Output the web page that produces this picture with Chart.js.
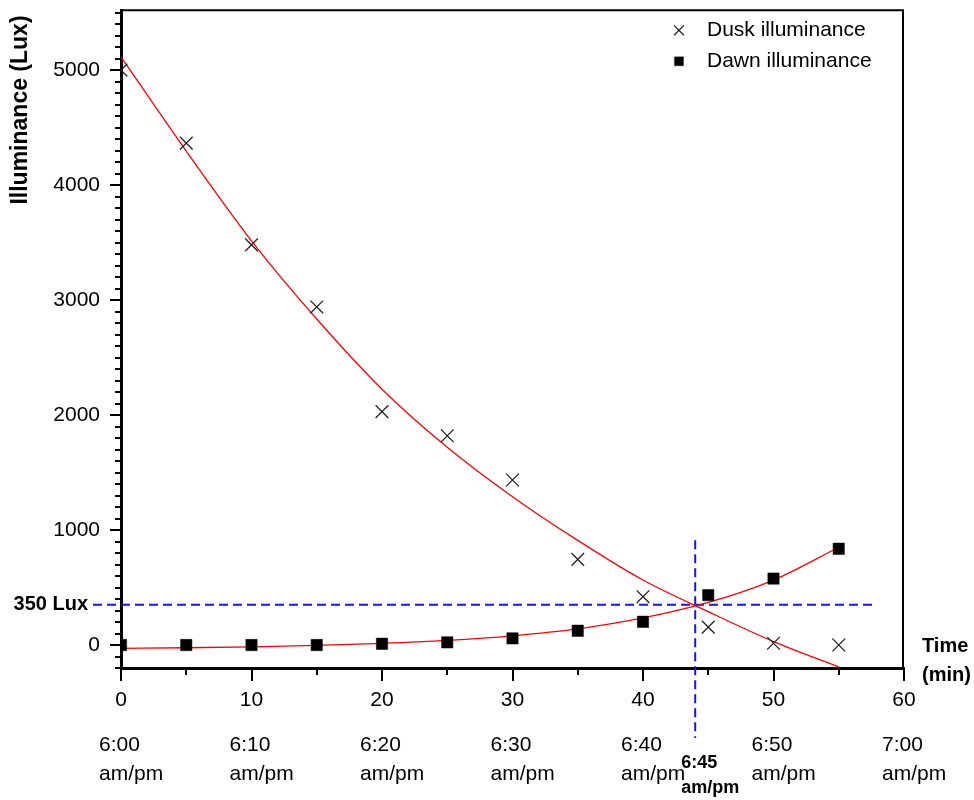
<!DOCTYPE html>
<html lang="en">

<head>
  <title>Dusk and dawn illuminance</title>
  <meta charset="UTF-8">
  <meta name="viewport" content="width=device-width, initial-scale=1">
  <script src="https://cdn.jsdelivr.net/npm/chart.js@4.4.1/dist/chart.umd.min.js"></script>
  <style>
    body { margin: 0; background: #fff; }
  </style>
</head>

<body>
  <canvas id="myChart" width="974" height="800"></canvas>
  <script>
    const minutes = [0, 5, 10, 15, 20, 25, 30, 35, 40, 45, 50, 55];
    const duskLux = [5000, 4365, 3480, 2940, 2030, 1820, 1435, 745, 420, 155, 15, 0];
    const dawnLux = [0, 0, 0, 0, 11, 23, 58, 124, 202, 433, 578, 837];
    // fitted curves
    const duskFit = [5115, 4295, 3515, 2835, 2225, 1720, 1290, 910, 565, 290, 30, -190];
    const dawnFit = [-29, -24, -16, -4, 14, 40, 80, 140, 235, 370, 565, 850];

    const yTicks = [0, 1000, 2000, 3000, 4000, 5000];
    const xTicks = [0, 10, 20, 30, 40, 50, 60];
    const clockLabels = ["6:00", "6:10", "6:20", "6:30", "6:40", "6:50", "7:00"];

    const thresholdLux = 350;
    const crossMinute = 44;
    const crossLabel = ["6:45", "am/pm"];
    const legendLabels = ["Dusk illuminance", "Dawn illuminance"];

    const FONT = "'Liberation Sans', Arial, sans-serif";
    const toPoints = ys => minutes.map((m, i) => ({ x: m, y: ys[i] }));

    const duskStyle = { pointStyle: "crossRot", radius: 9, borderWidth: 1.3, color: "#222" };
    const dawnStyle = { pointStyle: "rect", radius: 8, borderWidth: 0.5, color: "#000" };

    const extras = {
      id: "extras",
      beforeDatasetsDraw(chart) {
        const { ctx, chartArea: a, scales: { x, y } } = chart;
        const py = y.getPixelForValue(thresholdLux);
        const px = x.getPixelForValue(crossMinute);
        ctx.save();
        ctx.strokeStyle = "#1515ee";
        ctx.lineWidth = 2;
        ctx.setLineDash([9, 5]);
        ctx.beginPath();
        ctx.moveTo(a.left - 28, py);
        ctx.lineTo(x.getPixelForValue(57.8), py);
        ctx.moveTo(px, y.getPixelForValue(910));
        ctx.lineTo(px, a.bottom + 70);
        ctx.stroke();
        ctx.restore();
      },
      afterDraw(chart) {
        const { ctx, chartArea: a, scales: { x, y } } = chart;
        ctx.save();
        ctx.strokeStyle = "#000";
        ctx.lineWidth = 2;

        // minor + major tick marks
        ctx.beginPath();
        for (let v = -200; v <= 5500; v += 100) {
          const py = Math.round(y.getPixelForValue(v));
          const len = v % 1000 === 0 ? 11 : 6;
          ctx.moveTo(a.left, py);
          ctx.lineTo(a.left - len, py);
        }
        for (let v = 0; v <= 60; v += 5) {
          const px = Math.round(x.getPixelForValue(v));
          const len = v % 10 === 0 ? 13 : 7;
          ctx.moveTo(px, a.bottom);
          ctx.lineTo(px, a.bottom + len);
        }
        ctx.stroke();

        // top and right frame
        ctx.beginPath();
        ctx.moveTo(a.left, a.top);
        ctx.lineTo(a.right - 1, a.top);
        ctx.lineTo(a.right - 1, a.bottom);
        ctx.stroke();

        ctx.fillStyle = "#000";
        ctx.textBaseline = "middle";

        // clock times under the minute labels
        ctx.font = "21px " + FONT;
        ctx.textAlign = "left";
        xTicks.forEach((v, i) => {
          const px = x.getPixelForValue(v) - 22;
          ctx.fillText(clockLabels[i], px, a.bottom + 77);
          ctx.fillText("am/pm", px, a.bottom + 106);
        });

        // crossing annotation
        ctx.font = "bold 18px " + FONT;
        const cx = x.getPixelForValue(crossMinute) - 14;
        ctx.fillText(crossLabel[0], cx, a.bottom + 95);
        ctx.fillText(crossLabel[1], cx, a.bottom + 120);

        ctx.font = "bold 20px " + FONT;
        ctx.textAlign = "right";
        ctx.fillText(thresholdLux + " Lux", a.left - 33, y.getPixelForValue(thresholdLux));

        ctx.textAlign = "left";
        ctx.fillText("Time", a.right + 18, a.bottom - 22);
        ctx.fillText("(min)", a.right + 18, a.bottom + 7);

        // y axis title
        ctx.save();
        ctx.translate(21, 110);
        ctx.rotate(-Math.PI / 2);
        ctx.textAlign = "center";
        ctx.font = "bold 23px " + FONT;
        ctx.fillText("Illuminance (Lux)", 0, 0);
        ctx.restore();

        // legend
        ctx.font = "21px " + FONT;
        ctx.textAlign = "left";
        [duskStyle, dawnStyle].forEach((s, i) => {
          const ly = a.top + 20 + i * 31;
          const lx = a.right - 225;
          ctx.strokeStyle = s.color;
          ctx.fillStyle = s.color;
          ctx.lineWidth = s.borderWidth;
          Chart.helpers.drawPoint(ctx, {
            pointStyle: s.pointStyle,
            radius: s.radius * 0.78,
            rotation: 0,
            borderWidth: s.borderWidth
          }, lx, ly);
          ctx.fillStyle = "#000";
          ctx.fillText(legendLabels[i], lx + 28, ly);
        });
        ctx.restore();
      }
    };

    const noScalePadding = scale => {
      scale.paddingTop = 0;
      scale.paddingBottom = 0;
      scale.paddingLeft = 0;
      scale.paddingRight = 0;
    };

    new Chart("myChart", {
      type: "scatter",
      data: {
        datasets: [{
          label: legendLabels[0],
          data: toPoints(duskLux),
          pointStyle: duskStyle.pointStyle,
          pointRadius: duskStyle.radius,
          pointBorderWidth: duskStyle.borderWidth,
          borderColor: duskStyle.color,
          backgroundColor: "rgba(0,0,0,0)"
        }, {
          label: legendLabels[1],
          data: toPoints(dawnLux),
          pointStyle: dawnStyle.pointStyle,
          pointRadius: dawnStyle.radius,
          pointBorderWidth: dawnStyle.borderWidth,
          borderColor: dawnStyle.color,
          backgroundColor: dawnStyle.color
        }, {
          label: "Dusk fit",
          data: toPoints(duskFit),
          showLine: true,
          pointRadius: 0,
          borderColor: "#ff0000",
          borderWidth: 1.3,
          cubicInterpolationMode: "monotone"
        }, {
          label: "Dawn fit",
          data: toPoints(dawnFit),
          showLine: true,
          pointRadius: 0,
          borderColor: "#ff0000",
          borderWidth: 1.3,
          cubicInterpolationMode: "monotone"
        }]
      },
      options: {
        responsive: false,
        animation: false,
        layout: { padding: { left: 0, top: 8, right: 70, bottom: 0 } },
        plugins: {
          legend: { display: false },
          tooltip: { enabled: false }
        },
        scales: {
          x: {
            type: "linear",
            min: 0,
            max: 60,
            grid: { display: false, drawTicks: false },
            border: { display: true, color: "#000", width: 3 },
            ticks: {
              padding: 20,
              color: "#000",
              font: { size: 21, family: FONT },
              callback: v => String(v)
            },
            afterBuildTicks: scale => { scale.ticks = xTicks.map(v => ({ value: v })); },
            afterFit: scale => { scale.height = 132; noScalePadding(scale); }
          },
          y: {
            type: "linear",
            min: -200,
            max: 5520,
            grid: { display: false, drawTicks: false },
            border: { display: true, color: "#000", width: 3 },
            ticks: {
              padding: 21,
              color: "#000",
              font: { size: 21, family: FONT },
              callback: v => String(v)
            },
            afterBuildTicks: scale => { scale.ticks = yTicks.map(v => ({ value: v })); },
            afterFit: scale => { scale.width = 121; noScalePadding(scale); }
          }
        }
      },
      plugins: [extras]
    });
  </script>
</body>

</html>
